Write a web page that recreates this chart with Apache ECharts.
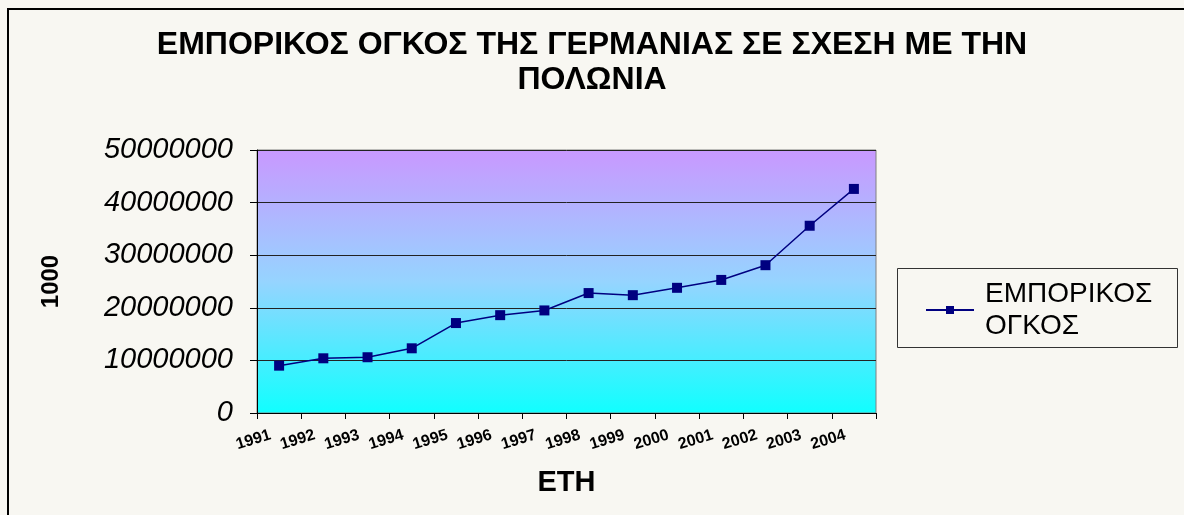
<!DOCTYPE html>
<html>
<head>
<meta charset="utf-8">
<script src="https://cdn.jsdelivr.net/npm/echarts@6/dist/echarts.min.js"></script>
<style>
html,body{margin:0;padding:0;background:#f8f7f2;}
#c{width:1184px;height:515px;}
</style>
</head>
<body>
<div id="c"></div>
<script>
const titleText = 'ΕΜΠΟΡΙΚΟΣ ΟΓΚΟΣ ΤΗΣ ΓΕΡΜΑΝΙΑΣ ΣΕ ΣΧΕΣΗ ΜΕ ΤΗΝ\nΠΟΛΩΝΙΑ';
const years = ['1991','1992','1993','1994','1995','1996','1997','1998','1999','2000','2001','2002','2003','2004'];
const seriesName = 'ΕΜΠΟΡΙΚΟΣ ΟΓΚΟΣ';
const tradeVolume = [9000000, 10400000, 10600000, 12300000, 17100000, 18600000, 19500000, 22800000, 22400000, 23800000, 25300000, 28100000, 35600000, 42600000];
const yAxisName = '1000';
const xAxisName = 'ΕΤΗ';

const chart = echarts.init(document.getElementById('c'));
const FONT = '"Liberation Sans", Arial, sans-serif';
chart.setOption({
  backgroundColor: '#f8f7f2',
  animation: false,
  title: {
    text: titleText,
    left: 'center',
    top: 23,
    textStyle: {fontFamily: FONT, fontWeight: 'bold', fontSize: 32, color: '#000', lineHeight: 35}
  },
  graphic: [
    {type: 'rect', shape: {x: 8, y: 9, width: 1200, height: 520}, style: {fill: 'none', stroke: '#000', lineWidth: 2}, silent: true},
    {type: 'rect', shape: {x: 897.5, y: 268.5, width: 280, height: 79}, style: {fill: 'none', stroke: '#333', lineWidth: 1}, silent: true}
  ],
  legend: {
    left: 925,
    top: 262,
    itemWidth: 48,
    itemHeight: 10,
    itemGap: 0,
    padding: 0,
    formatter: n => n.replace(' ', '\n'),
    textStyle: {fontFamily: FONT, fontSize: 28, color: '#000', lineHeight: 32, padding: [32, 0, 0, 6]},
    data: [seriesName]
  },
  grid: {left: 257, right: 308, top: 150, bottom: 102, show: true, borderColor: '#808080', borderWidth: 1,
    backgroundColor: new echarts.graphic.LinearGradient(0, 0, 0, 1, [
      {offset: 0, color: '#c998ff'},
      {offset: 0.5, color: '#96d4ff'},
      {offset: 1, color: '#10ffff'}
    ])},
  xAxis: {
    type: 'category',
    data: years,
    boundaryGap: true,
    name: xAxisName,
    nameLocation: 'middle',
    nameGap: 55,
    nameTextStyle: {fontFamily: FONT, fontWeight: 'bold', fontSize: 29, color: '#000'},
    axisLine: {lineStyle: {color: '#000', width: 1}},
    axisTick: {show: true, alignWithLabel: false, length: 6, lineStyle: {color: '#000'}},
    axisLabel: {rotate: 17, margin: 19, interval: 0, fontFamily: FONT, fontWeight: 'bold', fontSize: 16, color: '#000', padding: [0, 9, 0, 0]},
    splitLine: {show: false}
  },
  yAxis: {
    type: 'value',
    min: 0,
    max: 50000000,
    interval: 10000000,
    name: yAxisName,
    nameLocation: 'middle',
    nameRotate: 90,
    nameGap: 194,
    nameTextStyle: {fontFamily: FONT, fontWeight: 'bold', fontSize: 24, color: '#000'},
    axisLine: {show: true, lineStyle: {color: '#000', width: 1}},
    axisTick: {show: true, length: 7, lineStyle: {color: '#000'}},
    axisLabel: {margin: 24, fontFamily: FONT, fontStyle: 'italic', fontSize: 29, color: '#000', formatter: v => String(v)},
    splitLine: {show: true, lineStyle: {color: '#222', width: 1}}
  },
  series: [{
    name: seriesName,
    type: 'line',
    data: tradeVolume,
    symbol: 'rect',
    symbolSize: 10,
    lineStyle: {color: '#000080', width: 1.5},
    itemStyle: {color: '#000080'}
  }]
});
</script>
</body>
</html>
